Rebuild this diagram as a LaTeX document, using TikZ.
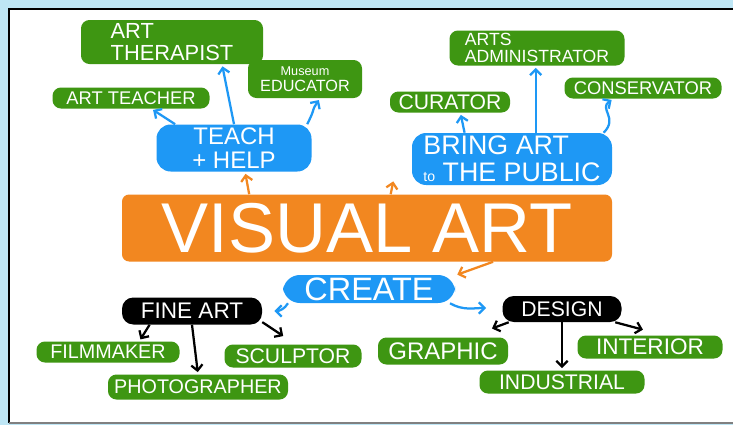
\documentclass[tikz,border=0pt]{standalone}
\usepackage{fontspec}
\setmainfont{Liberation Sans}
\usetikzlibrary{arrows.meta}

\begin{document}
\begin{tikzpicture}[x=0.709pt,y=-0.709pt]
    % Define colors
    \definecolor{framesky}{RGB}{190,230,245}
    \definecolor{careergreen}{RGB}{62,150,18}
    \definecolor{hubblue}{RGB}{30,152,245}
    \definecolor{coreorange}{RGB}{242,135,32}

    \def\pix{0.709pt}

    \tikzset{
        career/.style={fill=careergreen, text=white, rounded corners=6pt, inner sep=0pt, align=center},
        hub/.style={fill=hubblue, text=white, rounded corners=10pt, inner sep=0pt, align=center},
        field/.style={fill=black, text=white, rounded corners=8pt, inner sep=0pt},
        core/.style={fill=coreorange, text=white, rounded corners=5pt, inner sep=0pt},
        link/.style={line width=1.6pt, shorten >=1.5pt, -{Straight Barb[length=4pt,width=8pt]}},
    }

    % Frame
    \useasboundingbox (0,0) rectangle (733,425);
    \fill[framesky] (0,0) rectangle (733,425);
    \fill[white] (9,9) rectangle (733,423);
    \draw[line width=1.8pt] (733,9) -- (9,9) -- (9,423);
    \draw[gray, line width=1pt] (9,423) -- (733,423);

    % Centre
    \node[core, minimum width=490*\pix, minimum height=67*\pix, font=\fontsize{50}{50}\selectfont] (visual) at (367,228) {VISUAL ART};

    % Teach + help branch
    \node[hub, minimum width=155*\pix, minimum height=47*\pix, font=\fontsize{17}{17}\selectfont] (teach) at (234,148) {TEACH\\+ HELP};
    \node[career, minimum width=182*\pix, minimum height=44*\pix, align=left, font=\fontsize{15.5}{15.5}\selectfont] (therapist) at (172,42) {ART\\THERAPIST};
    \node[career, minimum width=157*\pix, minimum height=21*\pix, font=\fontsize{13}{13}\selectfont] (teacher) at (131,98) {ART TEACHER};
    \node[career, minimum width=114*\pix, minimum height=38*\pix, font=\fontsize{11.5}{11.5}\selectfont] (educator) at (305,79) {{\fontsize{9}{9}\selectfont Museum}\\EDUCATOR};

    % Public branch
    \node[hub, minimum width=200*\pix, minimum height=52*\pix, align=left, font=\fontsize{19}{19}\selectfont] (public) at (512,159) {BRING ART\\{\fontsize{10}{10}\selectfont to} THE PUBLIC};
    \node[career, minimum width=175*\pix, minimum height=35*\pix, align=left, font=\fontsize{12.5}{12.5}\selectfont] (admin) at (537,48) {ARTS\\ADMINISTRATOR};
    \node[career, minimum width=120*\pix, minimum height=21*\pix, font=\fontsize{15}{15}\selectfont] (curator) at (450,102) {CURATOR};
    \node[career, minimum width=157*\pix, minimum height=21*\pix, font=\fontsize{13}{13}\selectfont] (conservator) at (643,88) {CONSERVATOR};

    % Create branch
    \node[hub, rounded corners=12pt, minimum width=172*\pix, minimum height=28*\pix, font=\fontsize{23}{23}\selectfont] (create) at (369,289) {CREATE};
    \node[field, minimum width=140*\pix, minimum height=27*\pix, font=\fontsize{16}{16}\selectfont] (fineart) at (192,311) {FINE ART};
    \node[career, minimum width=143*\pix, minimum height=21*\pix, font=\fontsize{14}{14}\selectfont] (filmmaker) at (108,352) {FILMMAKER};
    \node[career, minimum width=137*\pix, minimum height=23*\pix, font=\fontsize{15}{15}\selectfont] (sculptor) at (293,356) {SCULPTOR};
    \node[career, minimum width=180*\pix, minimum height=25*\pix, font=\fontsize{14}{14}\selectfont] (photographer) at (198,387) {PHOTOGRAPHER};
    \node[field, minimum width=119*\pix, minimum height=26*\pix, font=\fontsize{15}{15}\selectfont] (design) at (562,309) {DESIGN};
    \node[career, minimum width=130*\pix, minimum height=27*\pix, font=\fontsize{17}{17}\selectfont] (graphic) at (443,351) {GRAPHIC};
    \node[career, minimum width=145*\pix, minimum height=23*\pix, font=\fontsize{16}{16}\selectfont] (interior) at (650,347) {INTERIOR};
    \node[career, minimum width=165*\pix, minimum height=23*\pix, font=\fontsize{15}{15}\selectfont] (industrial) at (562,382) {INDUSTRIAL};

    % Arrows out of the centre
    \draw[link, coreorange] (visual.164) -- (teach.-65);
    \draw[link, coreorange] (visual.55) -- ([shift={(-18,-6)}]public.south west);
    \draw[link, coreorange] (visual.-15) -- (create.9);

    % Arrows out of the hubs
    \draw[link, hubblue] (teach.158) -- (teacher.-28);
    \draw[link, hubblue] (teach.north) -- (therapist.-24);
    \draw[link, hubblue] (teach.18) .. controls +(10,-20) and +(-10,15) .. (educator.-52);
    \draw[link, hubblue] (public.151) -- (curator.-46);
    \draw[link, hubblue] (public.48) -- (public.48 |- admin.south);
    \draw[link, hubblue] (public.16) .. controls +(15,-15) and +(-15,10) .. (conservator.200);
    \draw[link, hubblue] (create.190) to[out=-120, in=0] ([shift={(10,0)}]fineart.east);
    \draw[link, hubblue] (create.-10) to[out=-30, in=180] ([shift={(-14,-1)}]design.west);

    % Arrows out of fine art and design
    \draw[link] (fineart.198) -- (filmmaker.19);
    \draw[link] (fineart.south) -- (photographer.north);
    \draw[link] (fineart.-9) -- ([shift={(-8,-7)}]sculptor.north);
    \draw[link] (design.194) -- ([shift={(47,-8)}]graphic.north);
    \draw[link] (design.south) -- (industrial.north);
    \draw[link] (design.-14) -- ([shift={(-5,-5)}]interior.north);
\end{tikzpicture}
\end{document}
